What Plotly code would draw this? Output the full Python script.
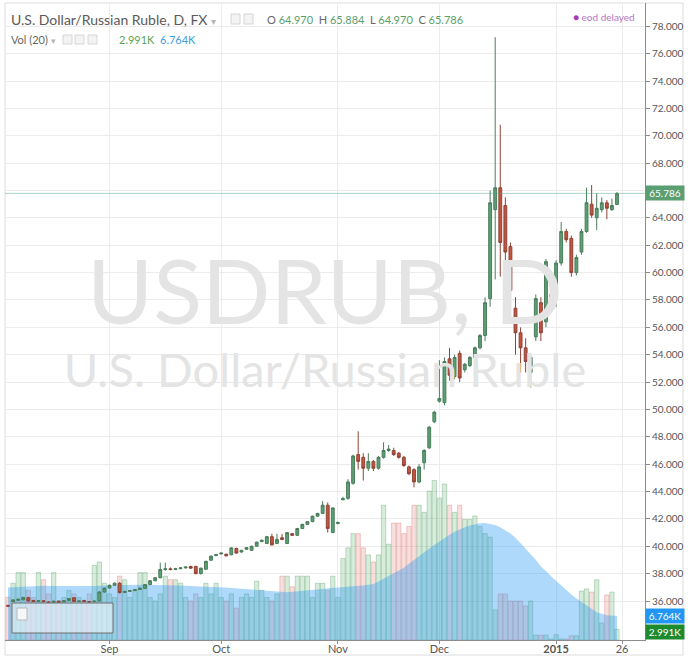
import plotly.graph_objects as go
import pandas as pd

# ---------------- data ----------------
holidays = ["2015-01-01", "2015-01-02", "2015-01-07", "2015-01-08"]
dates = [d.strftime("%Y-%m-%d") for d in pd.bdate_range("2014-08-04", "2015-01-23")
         if d.strftime("%Y-%m-%d") not in holidays]

opens = [35.68, 35.95, 36.05, 36.08, 36.25, 36.04, 35.96, 36.02, 35.92, 35.90,
         35.99, 35.93, 36.02, 36.24, 35.97, 36.04, 35.96, 35.94, 35.99, 36.66,
         36.95, 37.15, 37.30, 36.62, 36.70, 36.76, 36.84, 36.92, 37.20, 37.48,
         37.70, 38.30, 38.35, 38.30, 38.36, 38.42, 38.52, 38.52, 38.00, 38.32,
         38.98, 39.32, 39.44, 39.42, 39.38, 39.84, 39.58, 39.78, 39.70, 40.00,
         40.34, 40.20, 40.70, 40.20, 40.62, 40.20, 40.92, 40.80, 41.30, 41.60,
         41.80, 42.20, 42.40, 43.00, 41.00, 41.66, 43.40, 43.50, 44.60, 46.70,
         46.50, 45.70, 46.20, 45.70, 46.50, 47.00, 47.00, 46.80, 46.50, 45.80,
         45.60, 44.70, 46.10, 47.20, 49.10, 50.60, 50.50, 53.70, 52.40, 54.10,
         52.90, 53.20, 53.80, 54.50, 55.40, 58.10, 64.60, 66.20, 64.90, 61.90,
         57.40, 55.60, 54.50, 52.70, 55.30, 57.80, 56.40, 58.20, 58.40, 60.70,
         63.00, 62.50, 60.00, 61.50, 63.00, 65.00, 64.00, 64.60, 65.10, 64.60,
         64.970]
highs = [35.72, 36.12, 36.18, 36.30, 36.30, 36.08, 36.06, 36.05, 35.98, 36.02,
         36.03, 36.06, 36.22, 36.28, 36.04, 36.08, 35.99, 36.02, 36.72, 36.98,
         37.20, 37.35, 37.38, 36.74, 36.80, 36.88, 36.98, 37.24, 37.52, 37.74,
         38.80, 38.80, 38.45, 38.42, 38.46, 38.52, 38.58, 38.58, 38.44, 38.94,
         39.32, 39.42, 39.54, 39.46, 39.92, 39.90, 39.74, 39.94, 40.04, 40.34,
         40.48, 40.74, 40.92, 40.90, 40.90, 41.04, 40.96, 41.34, 41.64, 41.84,
         42.24, 42.44, 43.30, 43.20, 42.84, 41.80, 43.62, 44.90, 46.70, 48.40,
         46.80, 46.80, 46.30, 46.60, 47.60, 47.40, 47.20, 46.90, 46.60, 45.90,
         45.70, 46.00, 47.10, 48.80, 49.90, 53.60, 53.80, 54.50, 54.00, 54.30,
         53.40, 53.90, 54.60, 55.50, 58.20, 66.00, 77.20, 70.80, 65.50, 62.20,
         58.20, 56.00, 55.20, 54.00, 58.40, 58.20, 61.00, 58.50, 60.90, 63.70,
         63.20, 62.70, 61.30, 63.20, 66.20, 66.40, 65.80, 65.50, 65.30, 65.40,
         65.884]
lows = [35.58, 35.92, 36.02, 36.05, 35.95, 35.92, 35.93, 35.92, 35.86, 35.88,
        35.88, 35.91, 36.00, 35.93, 35.94, 35.93, 35.90, 35.91, 35.96, 36.62,
        36.90, 37.10, 36.55, 36.58, 36.66, 36.72, 36.80, 36.88, 37.16, 37.44,
        37.66, 38.22, 38.24, 38.26, 38.32, 38.38, 38.36, 37.96, 37.94, 38.28,
        38.94, 39.28, 39.40, 39.26, 39.34, 39.46, 39.54, 39.74, 39.66, 39.96,
        40.30, 40.16, 40.06, 40.16, 40.44, 40.16, 40.76, 40.76, 41.26, 41.56,
        41.76, 42.16, 42.36, 41.00, 40.96, 41.62, 43.36, 43.40, 44.50, 45.60,
        44.80, 45.50, 45.50, 45.60, 46.40, 46.90, 46.60, 46.40, 45.80, 45.20,
        44.30, 44.60, 45.60, 47.10, 49.00, 50.50, 50.30, 52.10, 52.20, 52.00,
        52.70, 53.10, 53.70, 54.40, 55.00, 57.50, 59.50, 59.70, 58.00, 58.00,
        54.00, 52.70, 52.70, 51.60, 55.00, 55.00, 56.00, 58.10, 57.50, 60.50,
        62.20, 59.70, 59.80, 61.30, 62.90, 64.00, 63.10, 64.40, 63.90, 64.50,
        64.970]
closes = [35.62, 36.08, 36.12, 36.26, 36.00, 35.96, 36.03, 35.95, 35.90, 35.98,
          35.92, 36.03, 36.18, 35.97, 36.00, 35.96, 35.94, 35.99, 36.66, 36.94,
          37.15, 37.30, 36.62, 36.70, 36.76, 36.84, 36.94, 37.20, 37.48, 37.70,
          38.30, 38.35, 38.30, 38.36, 38.42, 38.48, 38.40, 38.00, 38.40, 38.90,
          39.28, 39.40, 39.50, 39.30, 39.88, 39.50, 39.70, 39.90, 40.00, 40.30,
          40.44, 40.70, 40.10, 40.50, 40.50, 41.00, 40.80, 41.30, 41.60, 41.80,
          42.20, 42.40, 43.00, 41.30, 42.80, 41.74, 43.48, 44.70, 46.60, 46.20,
          45.70, 46.20, 45.70, 46.50, 47.00, 47.10, 46.70, 46.50, 45.90, 45.30,
          44.70, 45.80, 47.00, 48.70, 49.80, 50.80, 53.50, 52.50, 53.80, 52.30,
          53.30, 53.80, 54.50, 55.40, 57.80, 65.10, 66.20, 62.20, 61.50, 58.70,
          55.60, 54.50, 53.50, 53.80, 58.10, 55.60, 60.80, 58.40, 60.70, 63.00,
          62.40, 60.00, 61.10, 63.00, 65.10, 64.20, 64.70, 65.10, 64.70, 64.90,
          65.786]

# volume (thousands) and its 20-bar moving average (thousands)
volume_k = [12, 16, 19, 19, 14, 12, 19, 17, 13, 19, 11, 12, 14, 13, 12, 11, 13, 21, 22, 16,
            13, 12, 18, 17, 12, 14, 19, 19, 12, 11, 13, 18, 17, 17, 16, 12, 11, 13, 12, 16, 13, 16,
            12, 11, 13, 9, 12, 13, 12, 16.6, 14, 12, 11, 13, 18, 18, 15, 18, 18, 18, 12, 16, 16, 14, 18,
            12, 23, 26, 30, 30, 26, 24, 22, 24, 38, 27, 33, 33, 30, 32, 38, 38, 36, 42, 45,
            40, 44, 38, 36, 38, 34, 34, 35, 32, 30, 29, 8.5, 13, 13, 11, 11, 11, 9.6, 11, 1.4, 1.4, 1.4, 0.3,
            1.5, 0.3, 0.3, 1.2, 1.2, 13.8, 14.4, 13.5, 17, 4.8, 12.7, 13.5, 2.991]
vol_ma_k = [14.8, 14.9, 15.0, 15.1, 15.2, 15.2, 15.3, 15.3, 15.2, 15.2, 15.1, 15.0, 15.0, 15.0, 15.0,
            15.0, 15.1, 15.2, 15.3, 15.4,
            15.4, 15.4, 15.5, 15.5, 15.6, 15.6, 15.6, 15.6, 15.6, 15.6, 15.5, 15.5, 15.5, 15.5, 15.4,
            15.3, 15.2, 15.1, 15.0, 15.0, 14.9, 14.9,
            14.9, 14.8, 14.7, 14.6, 14.5, 14.4, 14.3, 14.2, 14.0, 13.8, 13.7, 13.6, 13.5, 13.5, 13.6,
            13.7, 13.8, 14.0, 14.1, 14.3, 14.4, 14.6, 14.7,
            14.7, 14.8, 14.9, 15.0, 15.2, 15.4, 15.6, 15.8, 16.5, 17.3, 18.0, 18.8, 19.6, 20.4, 21.5,
            22.6, 23.8, 24.8, 25.8, 26.8,
            27.8, 28.8, 29.7, 30.5, 31.2, 31.8, 32.3, 32.7, 32.9, 33.0, 32.8, 32.4, 31.8, 31.0, 30.0,
            28.8, 27.3, 25.8, 24.2, 22.6, 20.8, 19.3, 18.0,
            16.7, 15.3, 14.0, 12.8, 11.7, 10.8, 9.9, 8.8, 7.8, 7.3, 7.0, 6.9, 6.764]

tick_dates = ["2014-09-01", "2014-10-01", "2014-11-03", "2014-12-01", "2015-01-05", "2015-01-26"]
tick_labels = ["Sep", "Oct", "Nov", "Dec", "<b>2015</b>", "26"]
price_ticks = list(range(36, 79, 2))

# ---------------- helpers ----------------
n = len(dates)
xs = list(range(n))


def date_pos(d):
    if d in dates:
        return dates.index(d)
    extra = len(pd.bdate_range(dates[-1], d)) - 1
    return n - 1 + extra


tick_pos = [date_pos(d) for d in tick_dates]

W, H = 688, 656
ML, MR, MT, MB = 5, 43, 3, 16
PW, PH = W - ML - MR, H - MT - MB
bar_px = 5.075
x_range = [-3 / bar_px, -3 / bar_px + PW / bar_px]
y_range = [33.15, 79.70]
v_range = [0, PH * 0.282]


def px(xp):
    return (xp - ML) / PW


def py(yp):
    return (H - MB - yp) / PH


def yval(frac):
    return y_range[0] + frac * (y_range[1] - y_range[0])


GREEN = "#5d9f74"
RED = "#c4533f"
vol_colors = ["rgba(90,175,110,0.24)" if c >= o else "rgba(225,110,100,0.22)"
              for o, c in zip(opens, closes)]
vol_lines = ["rgba(90,160,105,0.35)" if c >= o else "rgba(210,110,100,0.32)"
             for o, c in zip(opens, closes)]

fig = go.Figure()

# volume bars (base y axis)
fig.add_trace(go.Bar(x=xs, y=volume_k, marker=dict(color=vol_colors, line=dict(color=vol_lines, width=1)),
                     hoverinfo="skip", yaxis="y", xaxis="x"))
# volume moving average area
fig.add_trace(go.Scatter(x=xs, y=vol_ma_k, mode="lines", line=dict(width=0, color="rgba(33,150,243,0.4)"),
                         fill="tozeroy", fillcolor="rgba(33,150,243,0.36)", hoverinfo="skip",
                         yaxis="y", xaxis="x"))

# watermark (price axis, drawn before candles)
xmid = (x_range[0] + x_range[1]) / 2
fig.add_trace(go.Scatter(x=[xmid], y=[yval(py(301))], mode="text", text=["USDRUB, D"],
                         textfont=dict(family="Lato", size=90, color="#e4e4e4"), hoverinfo="skip",
                         yaxis="y2", xaxis="x"))
fig.add_trace(go.Scatter(x=[xmid], y=[yval(py(375))], mode="text", text=["U.S. Dollar/Russian Ruble"],
                         textfont=dict(family="Lato", size=47, color="#e4e4e4"), hoverinfo="skip",
                         yaxis="y2", xaxis="x"))

# candles
fig.add_trace(go.Candlestick(x=xs, open=opens, high=highs, low=lows, close=closes,
                             increasing=dict(fillcolor=GREEN, line=dict(color="#4a7d5c", width=1)),
                             decreasing=dict(fillcolor=RED, line=dict(color="#8e4436", width=1)),
                             hoverinfo="skip", yaxis="y2", xaxis="x"))

shapes = []
# last price line
shapes.append(dict(type="line", xref="paper", x0=0, x1=1, yref="y2", y0=closes[-1], y1=closes[-1],
                   line=dict(color="rgba(90,170,140,0.5)", width=1)))
# outer frame
shapes.append(dict(type="rect", xref="paper", yref="paper", x0=0, x1=px(683), y0=py(655), y1=1,
                   line=dict(color="#dcdcdc", width=1), fillcolor="rgba(0,0,0,0)", layer="below"))
# navigator box
shapes.append(dict(type="rect", xref="paper", yref="paper", x0=px(12), x1=px(113), y0=py(633), y1=py(603),
                   line=dict(color="#6f6f6f", width=1), fillcolor="rgba(238,243,247,0.62)"))
shapes.append(dict(type="rect", xref="paper", yref="paper", x0=px(17), x1=px(27), y0=py(620), y1=py(608),
                   line=dict(color="#b8b8b8", width=1), fillcolor="rgba(250,250,250,0.9)"))
# header icons
for x0 in (231, 244):
    shapes.append(dict(type="rect", xref="paper", yref="paper", x0=px(x0), x1=px(x0 + 9), y0=py(24), y1=py(14),
                       line=dict(color="#d6d6d6", width=1), fillcolor="#f3f3f3"))
for x0 in (63, 75, 88):
    shapes.append(dict(type="rect", xref="paper", yref="paper", x0=px(x0), x1=px(x0 + 9), y0=py(44), y1=py(35),
                       line=dict(color="#d6d6d6", width=1), fillcolor="#f3f3f3"))

ann = []
F = "Lato"
ann.append(dict(xref="paper", yref="paper", x=px(9), y=py(19), xanchor="left", yanchor="middle",
                text="U.S. Dollar/Russian Ruble, D, FX <span style='color:#b5b5b5;font-size:10px'>▾</span>",
                showarrow=False, font=dict(family=F, size=14, color="#5a5a5a")))
g = "#5aa06c"
ann.append(dict(xref="paper", yref="paper", x=px(265), y=py(19), xanchor="left", yanchor="middle",
                text=(f"O <span style='color:{g}'>{opens[-1]:.3f}</span>  H <span style='color:{g}'>{highs[-1]:.3f}</span>"
                      f"  L <span style='color:{g}'>{lows[-1]:.3f}</span>  C <span style='color:{g}'>{closes[-1]:.3f}</span>"),
                showarrow=False, font=dict(family=F, size=11, color="#666")))
ann.append(dict(xref="paper", yref="paper", x=px(9), y=py(39), xanchor="left", yanchor="middle",
                text="Vol (20) <span style='color:#b5b5b5;font-size:9px'>▾</span>",
                showarrow=False, font=dict(family=F, size=11, color="#666")))
ann.append(dict(xref="paper", yref="paper", x=px(117), y=py(39), xanchor="left", yanchor="middle",
                text=f"{volume_k[-1]:.3f}K", showarrow=False, font=dict(family=F, size=11, color="#5aa454")))
ann.append(dict(xref="paper", yref="paper", x=px(158), y=py(39), xanchor="left", yanchor="middle",
                text=f"{vol_ma_k[-1]:.3f}K", showarrow=False, font=dict(family=F, size=11, color="#3a9ee0")))
ann.append(dict(xref="paper", yref="paper", x=px(637), y=py(17), xanchor="right", yanchor="middle",
                text="<span style='color:#a43cbc'>●</span> eod delayed", showarrow=False,
                font=dict(family=F, size=10, color="#b574c8")))
# axis tags
ann.append(dict(xref="paper", yref="y2", x=1, y=closes[-1], xanchor="left", yanchor="middle",
                text=f"{closes[-1]:.3f}", showarrow=False, bgcolor="#5a9e72", width=36, height=12,
                font=dict(family=F, size=10, color="white")))
ann.append(dict(xref="paper", yref="y", x=1, y=vol_ma_k[-1], xanchor="left", yanchor="middle",
                text=f"{vol_ma_k[-1]:.3f}K", showarrow=False, bgcolor="#2196f3", width=36, height=12,
                font=dict(family=F, size=10, color="white")))
ann.append(dict(xref="paper", yref="y", x=1, y=volume_k[-1], xanchor="left", yanchor="middle",
                text=f"{volume_k[-1]:.3f}K", showarrow=False, bgcolor="#1e8a2e", width=36, height=12,
                yshift=-3, font=dict(family=F, size=10, color="white")))

# the 66 label sits under the last-price tag, as in the reference
price_ticktext = ["" if abs(v - closes[-1]) < 0.8 else f"{v:.3f}" for v in price_ticks]

fig.update_layout(
    width=W, height=H, margin=dict(l=ML, r=MR, t=MT, b=MB, autoexpand=False),
    paper_bgcolor="white", plot_bgcolor="white", showlegend=False,
    bargap=0.15, boxgap=0.2,
    shapes=shapes, annotations=ann,
    xaxis=dict(range=x_range, rangeslider=dict(visible=False), tickvals=tick_pos, ticktext=tick_labels,
               showgrid=True, gridcolor="#ececec", zeroline=False, showline=True, linecolor="#8c8c8c",
               ticks="outside", ticklen=3, tickcolor="#8c8c8c", automargin=False,
               ticklabelstandoff=-4,
               tickfont=dict(family=F, size=11, color="#555")),
    yaxis=dict(range=v_range, visible=False, showgrid=False, zeroline=False, fixedrange=True,
               automargin=False),
    yaxis2=dict(range=y_range, overlaying="y", side="right", anchor="x", tickvals=price_ticks,
                ticktext=price_ticktext, showgrid=True, gridcolor="#ececec", automargin=False,
                zeroline=False, showline=True, linecolor="#8c8c8c", ticks="outside", ticklen=4,
                tickcolor="#8c8c8c", tickfont=dict(family=F, size=10, color="#555")),
)

fig.write_html("out.html", config={"displayModeBar": False},
               post_script="document.body.style.margin='0px';")
